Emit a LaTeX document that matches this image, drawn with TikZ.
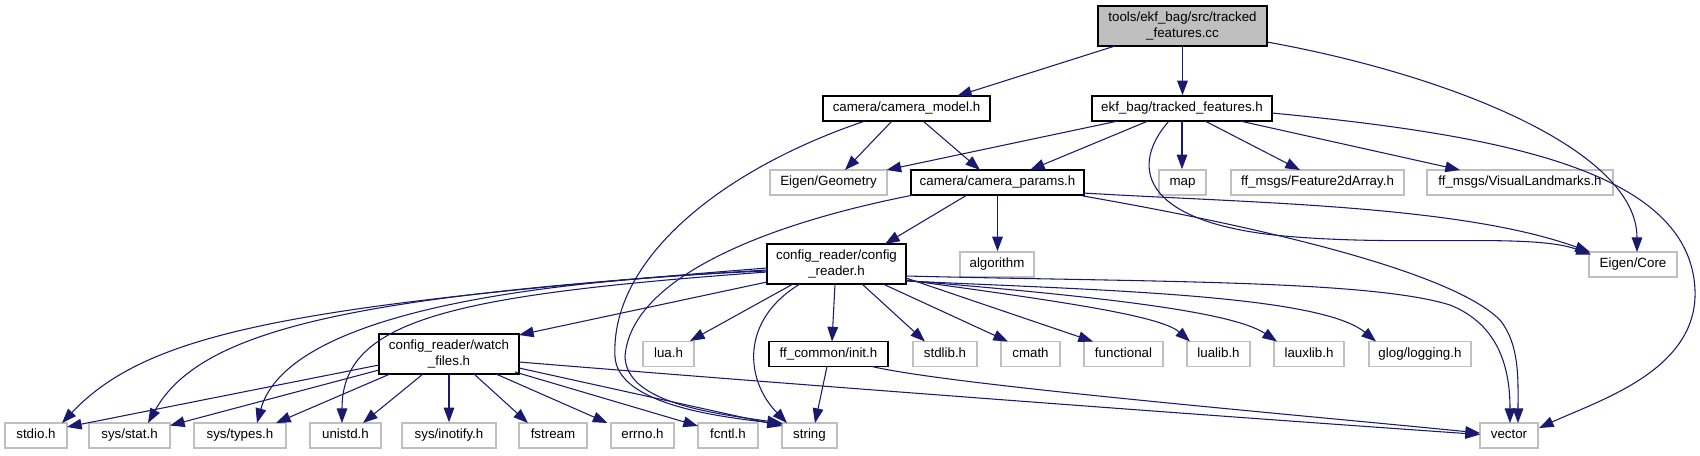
\documentclass[tikz,border=0pt]{standalone}
\usepackage{fontspec}
\setmainfont{Liberation Sans}
\usetikzlibrary{calc,arrows.meta}
\definecolor{edgeblue}{HTML}{191970}
\definecolor{lgray}{HTML}{BFBFBF}
\begin{document}
\begin{tikzpicture}[x=0.75pt,y=-0.75pt,
  font=\fontsize{10}{12}\selectfont,
  nbox/.style={rectangle, inner sep=0pt, minimum height=18.75pt, line width=1.2pt, align=center},
  one/.style={text height=7.3pt, text depth=2.2pt},
  doc/.style={nbox, draw=black, fill=white},
  ext/.style={nbox, draw=lgray, fill=white, one},
  tall/.style={minimum height=30pt},
  bw/.style={minimum width=#1*0.75pt},
  dep/.style={draw=edgeblue, line width=0.8pt, -{Triangle[length=11pt,width=8pt]}}
]
\useasboundingbox (0,0) rectangle (1700,455);

% row 0
\node[doc, tall, fill=lgray, bw=169] (root) at (1182.5,26) {tools/ekf\_bag/src/tracked\\\_features.cc};
% row 1
\node[doc, one, bw=167] (cammodel) at (906.5,108.5) {camera/camera\_model.h};
\node[doc, one, bw=180] (tracked) at (1182,108.5) {ekf\_bag/tracked\_features.h};
% row 2
\node[ext, bw=117] (geom) at (828.5,182.5) {Eigen/Geometry};
\node[doc, one, bw=173] (params) at (997.5,182.5) {camera/camera\_params.h};
\node[ext, bw=47] (map) at (1182.5,182.5) {map};
\node[ext, bw=173] (fda) at (1317.5,182.5) {ff\_msgs/Feature2dArray.h};
\node[ext, bw=186] (vis) at (1520,182.5) {ff\_msgs/VisualLandmarks.h};
% row 3
\node[doc, tall, bw=139] (config) at (836.5,264) {config\_reader/config\\\_reader.h};
\node[ext, bw=74] (algo) at (997,264.5) {algorithm};
\node[ext, bw=88] (core) at (1633,264.5) {Eigen/Core};
% row 4
\node[doc, tall, bw=140] (watch) at (449,354) {config\_reader/watch\\\_files.h};
\node[ext, bw=51] (lua) at (668.5,354) {lua.h};
\node[doc, one, bw=119] (init) at (828.5,354) {ff\_common/init.h};
\node[ext, bw=64] (stdlibh) at (945,354) {stdlib.h};
\node[ext, bw=59] (cmath) at (1030.5,354) {cmath};
\node[ext, bw=79] (functional) at (1123.5,354) {functional};
\node[ext, bw=63] (lualib) at (1218.5,354) {lualib.h};
\node[ext, bw=70] (lauxlib) at (1309,354) {lauxlib.h};
\node[ext, bw=102] (glog) at (1420,354) {glog/logging.h};
% row 5
\node[ext, bw=62] (stdio) at (36,435.5) {stdio.h};
\node[ext, bw=81] (stat) at (129.5,435.5) {sys/stat.h};
\node[ext, bw=92] (types) at (240,435.5) {sys/types.h};
\node[ext, bw=71] (unistd) at (345.5,435.5) {unistd.h};
\node[ext, bw=94] (inotify) at (449,435.5) {sys/inotify.h};
\node[ext, bw=68] (fstream) at (553,435.5) {fstream};
\node[ext, bw=63] (errno) at (642.5,435.5) {errno.h};
\node[ext, bw=60] (fcntl) at (728,435.5) {fcntl.h};
\node[ext, bw=55] (string) at (809.5,435.5) {string};
\node[ext, bw=58] (vector) at (1509,435.5) {vector};

% root
\draw[dep] ($(root)+(-67.5,20)$) -- ($(cammodel)+(50.5,-12.5)$);
\draw[dep] (root.south) -- (root.south |- tracked.north);
\draw[dep] ($(root)+(84.5,16)$) .. controls (1450,75) and (1637,150) .. ($(core)+(4,-12.5)$);
% camera_model
\draw[dep] ($(cammodel)+(-14.5,12.5)$) -- ($(geom)+(16.5,-12.5)$);
\draw[dep] ($(cammodel)+(16.5,12.5)$) -- ($(params)+(-17.5,-12.5)$);
\draw[dep] ($(cammodel)+(-41.5,12.5)$) .. controls (720,170) and (610,260) .. (615,357) .. controls (618,400) and (700,415) .. ($(string)+(-26.5,-11.5)$);
% tracked_features
\draw[dep] ($(tracked)+(-64,12.5)$) -- ($(geom)+(58,-12.5)$);
\draw[dep] ($(tracked)+(-34,12.5)$) -- ($(params)+(32.5,-12.5)$);
\draw[dep] (tracked.south) -- (tracked.south |- map.north);
\draw[dep] ($(tracked)+(23,12.5)$) -- ($(fda)+(-17.5,-12.5)$);
\draw[dep] ($(tracked)+(58,12.5)$) -- ($(vis)+(-60,-12.5)$);
\draw[dep] ($(tracked)+(-13,12.5)$) .. controls (1130,165) and (1140,220) .. (1274,235) .. controls (1400,248) and (1530,232) .. ($(core)+(-42,-10)$);
\draw[dep] ($(tracked)+(90,4.5)$) .. controls (1500,135) and (1690,170) .. (1695,290) .. controls (1698,370) and (1600,400) .. ($(vector)+(30,-7.5)$);
% camera_params
\draw[dep] ($(params)+(-30.5,12.5)$) -- ($(config)+(48.5,-20)$);
\draw[dep] (params.south) -- (params.south |- algo.north);
\draw[dep] ($(params)+(85.5,10.5)$) .. controls (1250,203) and (1460,205) .. ($(core)+(-43,-12.5)$);
\draw[dep] ($(params)+(85.5,13.5)$) .. controls (1250,225) and (1450,270) .. (1500,320) .. controls (1520,345) and (1518,380) .. ($(vector)+(9,-12.5)$);
\draw[dep] ($(params)+(-84,12.5)$) .. controls (760,225) and (630,280) .. (625,357) .. controls (627,400) and (700,412) .. ($(string)+(-27.5,-12.5)$);
% config_reader
\draw[dep] ($(config)+(-69.5,18)$) -- ($(watch)+(70,-19)$);
\draw[dep] ($(config)+(-69.5,4)$) .. controls (300,305) and (150,330) .. ($(stdio)+(26,-12.5)$);
\draw[dep] ($(config)+(-69.5,6)$) .. controls (350,295) and (200,330) .. ($(stat)+(18.5,-12.5)$);
\draw[dep] ($(config)+(-69.5,7)$) .. controls (420,285) and (280,340) .. ($(types)+(17,-12.5)$);
\draw[dep] ($(config)+(-69.5,8)$) .. controls (450,295) and (342,320) .. ($(unistd)+(-3.5,-12.5)$);
\draw[dep] ($(config)+(-43.5,20)$) -- ($(lua)+(21.5,-13)$);
\draw[dep] ($(config)+(-36.5,20)$) .. controls (740,320) and (745,380) .. ($(string)+(-22.5,-12.5)$);
\draw[dep] ($(config)+(-1.5,20)$) -- ($(init)+(3.5,-12.5)$);
\draw[dep] ($(config)+(25.5,20)$) -- ($(stdlibh)+(-20,-12.5)$);
\draw[dep] ($(config)+(46.5,20)$) -- ($(cmath)+(-22.5,-12.5)$);
\draw[dep] ($(config)+(69.5,14)$) -- ($(functional)+(-30.5,-12.5)$);
\draw[dep] ($(config)+(69.5,16)$) .. controls (1050,300) and (1160,315) .. ($(lualib)+(-28.5,-12.5)$);
\draw[dep] ($(config)+(69.5,16.5)$) .. controls (1080,295) and (1230,310) .. ($(lauxlib)+(-32,-12.5)$);
\draw[dep] ($(config)+(69.5,17)$) .. controls (1100,290) and (1320,295) .. ($(glog)+(-44,-12.5)$);
\draw[dep] ($(config)+(69.5,12)$) .. controls (1150,282) and (1370,280) .. (1450,305) .. controls (1500,325) and (1510,370) .. ($(vector)+(1,-12.5)$);
% watch_files
\draw[dep] ($(watch)+(-70,11)$) -- ($(stdio)+(31,-8.5)$);
\draw[dep] ($(watch)+(-70,16)$) -- ($(stat)+(40.5,-10)$);
\draw[dep] ($(watch)+(-59,20)$) -- ($(types)+(36,-12.5)$);
\draw[dep] ($(watch)+(-26,20)$) -- ($(unistd)+(17.5,-12.5)$);
\draw[dep] (watch.south) -- (inotify.north);
\draw[dep] ($(watch)+(25,20)$) -- ($(fstream)+(-25,-12.5)$);
\draw[dep] ($(watch)+(47,20)$) -- ($(errno)+(-35,-12.5)$);
\draw[dep] ($(watch)+(66,18)$) -- ($(fcntl)+(-30,-9.5)$);
\draw[dep] ($(watch)+(70,14)$) -- ($(string)+(-27.5,-9.5)$);
\draw[dep] ($(watch)+(70,8)$) .. controls (800,385) and (1200,415) .. ($(vector)+(-29,-1)$);
% init
\draw[dep] ($(init)+(-1.5,12.5)$) -- ($(string)+(5.5,-12.5)$);
\draw[dep] ($(init)+(43.5,12.5)$) .. controls (950,385) and (1300,415) .. ($(vector)+(-29,-2.5)$);
\end{tikzpicture}
\end{document}
